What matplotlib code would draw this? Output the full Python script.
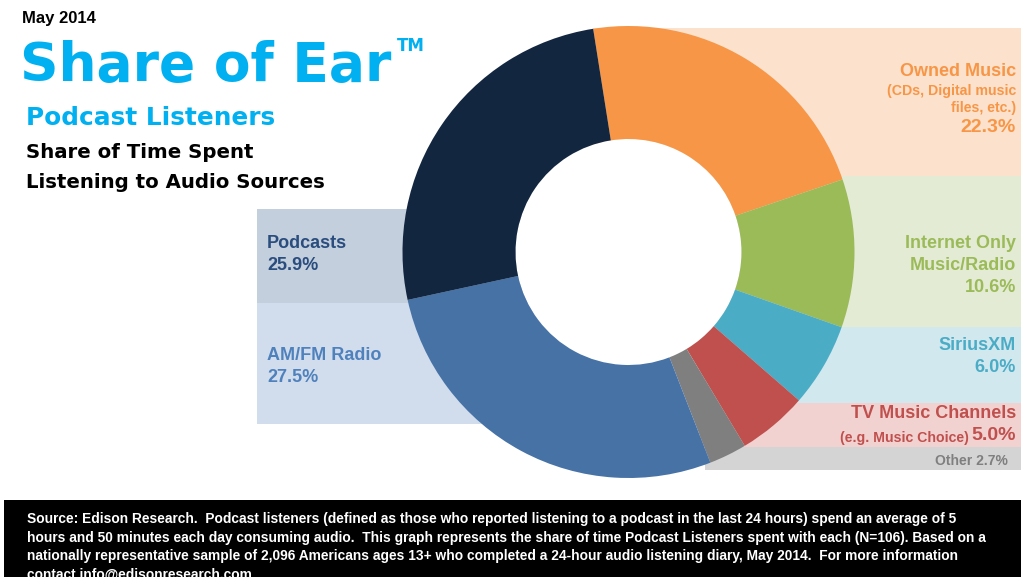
import matplotlib.pyplot as plt
from matplotlib.patches import Rectangle, Circle

# Data
labels = ['Owned Music', 'Internet Only Music/Radio', 'SiriusXM', 'TV Music Channels',
          'Other', 'AM/FM Radio', 'Podcasts']
shares = [22.3, 10.6, 6.0, 5.0, 2.7, 27.5, 25.9]
colors = ['#F79646', '#9BBB59', '#4BACC6', '#C0504D', '#7F7F7F', '#4672A6', '#13263F']

plt.rcParams['font.family'] = ['Liberation Sans', 'DejaVu Sans']

fig = plt.figure(figsize=(10.21, 5.77), dpi=100)
ax = fig.add_axes([0, 0, 1, 1])

# background bands behind the labels (pixel coords, y down)
bands = [
    (593, 28, 428, 148, '#FCE1CC'),
    (700, 176, 321, 151, '#E4EBD4'),
    (700, 327, 321, 76, '#D1E8EF'),
    (700, 403, 321, 44, '#F1D2D1'),
    (705, 447, 316, 23, '#D4D4D4'),
    (257, 209, 300, 94, '#C3CFDD'),
    (257, 303, 300, 121, '#D1DDEC'),
]
for x0, y0, w, h, c in bands:
    ax.add_patch(Rectangle((x0, y0), w, h, color=c, zorder=0, lw=0))

# donut (y axis is inverted below, so counterclock in data = clockwise on screen)
ax.pie(shares, colors=colors, startangle=-99, counterclock=True,
       center=(628.5, 252), radius=226,
       wedgeprops=dict(width=113, linewidth=0))
ax.add_patch(Circle((628.5, 252), 113, color='white', zorder=0.5, lw=0))

ax.set_xlim(0, 1021)
ax.set_ylim(577, 0)
ax.set_aspect('equal')
ax.axis('off')

# titles
ax.text(22, 19, 'May 2014', fontsize=12, fontweight='bold', color='black', va='center')
ax.text(20, 66, 'Share of Ear', fontsize=38.5, fontweight='bold', color='#00B0F0',
        va='center', family='DejaVu Sans')
ax.text(397, 46, 'TM', fontsize=12, fontweight='bold', color='#00B0F0', va='center',
        family='DejaVu Sans')
ax.text(26, 118, 'Podcast Listeners', fontsize=17.8, fontweight='bold', color='#00B0F0',
        va='center', family='DejaVu Sans')
ax.text(26, 153, 'Share of Time Spent', fontsize=14.2, fontweight='bold', color='black',
        va='center', family='DejaVu Sans')
ax.text(26, 183, 'Listening to Audio Sources', fontsize=14.2, fontweight='bold',
        color='black', va='center', family='DejaVu Sans')

# right-hand labels
rx = 1016
ax.text(rx, 72, 'Owned Music', fontsize=13, fontweight='bold', color=colors[0], ha='right', va='center')
ax.text(rx, 91, '(CDs, Digital music', fontsize=10.2, fontweight='bold', color=colors[0], ha='right', va='center')
ax.text(rx, 108, 'files, etc.)', fontsize=10.2, fontweight='bold', color=colors[0], ha='right', va='center')
ax.text(rx, 127, f'{shares[0]}%', fontsize=14, fontweight='bold', color=colors[0], ha='right', va='center')

ax.text(rx, 243, 'Internet Only', fontsize=13, fontweight='bold', color=colors[1], ha='right', va='center')
ax.text(rx, 265, 'Music/Radio', fontsize=13, fontweight='bold', color=colors[1], ha='right', va='center')
ax.text(rx, 287, f'{shares[1]}%', fontsize=13, fontweight='bold', color=colors[1], ha='right', va='center')

ax.text(rx, 346, 'SiriusXM', fontsize=13, fontweight='bold', color=colors[2], ha='right', va='center')
ax.text(rx, 368, f'{shares[2]}%', fontsize=13, fontweight='bold', color=colors[2], ha='right', va='center')

ax.text(rx, 414, 'TV Music Channels', fontsize=13, fontweight='bold', color=colors[3], ha='right', va='center')
ax.text(rx, 436, f'{shares[3]}%', fontsize=14, fontweight='bold', color=colors[3], ha='right', va='center')
ax.text(969, 438, '(e.g. Music Choice)', fontsize=10.2, fontweight='bold', color=colors[3], ha='right', va='center')

ax.text(1008, 461, f'Other {shares[4]}%', fontsize=10, fontweight='bold', color=colors[4], ha='right', va='center')

# left-hand labels
ax.text(267, 243, 'Podcasts', fontsize=13, fontweight='bold', color='#2A4D7E', va='center')
ax.text(267, 266, f'{shares[6]}%', fontsize=13, fontweight='bold', color='#2A4D7E', va='center')
ax.text(267, 355, 'AM/FM Radio', fontsize=13, fontweight='bold', color='#4F81BD', va='center')
ax.text(267, 378, f'{shares[5]}%', fontsize=13, fontweight='bold', color='#4F81BD', va='center')

# footer
ax.add_patch(Rectangle((4, 500), 1017, 77, color='black', zorder=0, lw=0))
footer = ("Source: Edison Research.  Podcast listeners (defined as those who reported listening to a podcast in the last 24 hours) spend an average of 5\n"
          "hours and 50 minutes each day consuming audio.  This graph represents the share of time Podcast Listeners spent with each (N=106). Based on a\n"
          "nationally representative sample of 2,096 Americans ages 13+ who completed a 24-hour audio listening diary, May 2014.  For more information\n"
          "contact info@edisonresearch.com")
ax.text(27, 512, footer, fontsize=9.9, fontweight='bold', color='white', va='top', linespacing=1.42)

plt.savefig('out.png', dpi=100)
